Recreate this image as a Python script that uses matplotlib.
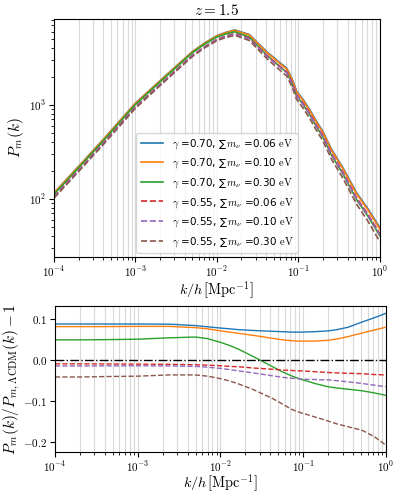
import numpy as np
import matplotlib
matplotlib.use("Agg")
import matplotlib.pyplot as plt
from matplotlib.ticker import LogLocator, FuncFormatter, FormatStrFormatter, NullFormatter

plt.rcParams['mathtext.fontset'] = 'cm'

# ================= DATA =================
k = [1e-4, 2e-4, 4e-4, 1e-3, 2.4e-3, 5e-3, 7e-3, 1e-2, 1.3e-2, 1.66e-2, 2.5e-2, 4.2e-2,
     5.7e-2, 7.2e-2, 8.3e-2, 9.5e-2, 0.115, 0.138, 0.167, 0.2, 0.255, 0.35,
     0.52, 0.72, 1.0]

# reference LCDM spectrum
P_lcdm = [106, 203, 391, 958, 1916, 3400, 4190, 5060, 5506, 5836, 5214, 3361,
          2701, 2292, 1796, 1310, 1056, 827, 621, 485, 312, 199,
          105, 70, 44]

gammas = [0.70, 0.70, 0.70, 0.55, 0.55, 0.55]
mnus = [0.06, 0.10, 0.30, 0.06, 0.10, 0.30]
colors = ["tab:blue", "tab:orange", "tab:green", "tab:red", "tab:purple", "tab:brown"]

# P_m / P_LCDM - 1 for each model
ratio_g70_m006 = [0.0889, 0.0889, 0.0889, 0.0889, 0.0885, 0.085, 0.082, 0.079, 0.077, 0.075, 0.073, 0.071,
                  0.070, 0.069, 0.069, 0.069, 0.0695, 0.070, 0.071, 0.072, 0.075, 0.081,
                  0.094, 0.104, 0.115]
ratio_g70_m010 = [0.0825, 0.0825, 0.0825, 0.083, 0.083, 0.080, 0.077, 0.072, 0.069, 0.066, 0.061, 0.054,
                  0.050, 0.048, 0.047, 0.047, 0.047, 0.047, 0.048, 0.049, 0.052, 0.058,
                  0.067, 0.074, 0.081]
ratio_g70_m030 = [0.050, 0.050, 0.0505, 0.0516, 0.055, 0.057, 0.053, 0.044, 0.036, 0.027, 0.009, -0.015,
                  -0.029, -0.038, -0.043, -0.047, -0.052, -0.057, -0.061, -0.065, -0.068, -0.071,
                  -0.075, -0.080, -0.086]
ratio_g55_m006 = [-0.0087, -0.0088, -0.009, -0.0095, -0.010, -0.011, -0.012, -0.0135, -0.015, -0.016, -0.019, -0.022,
                  -0.024, -0.025, -0.026, -0.026, -0.027, -0.028, -0.029, -0.030, -0.031, -0.032,
                  -0.033, -0.035, -0.036]
ratio_g55_m010 = [-0.014, -0.014, -0.0138, -0.0135, -0.014, -0.015, -0.017, -0.020, -0.023, -0.026, -0.031, -0.038,
                  -0.042, -0.044, -0.045, -0.046, -0.047, -0.047, -0.048, -0.048, -0.050, -0.053,
                  -0.057, -0.061, -0.065]
ratio_g55_m030 = [-0.041, -0.041, -0.040, -0.039, -0.036, -0.036, -0.039, -0.045, -0.051, -0.058, -0.072, -0.093,
                  -0.108, -0.120, -0.125, -0.129, -0.134, -0.139, -0.144, -0.149, -0.156, -0.163,
                  -0.172, -0.187, -0.208]

ratios = [ratio_g70_m006, ratio_g70_m010, ratio_g70_m030,
          ratio_g55_m006, ratio_g55_m010, ratio_g55_m030]

# ================= PLOT =================
fig = plt.figure(figsize=(3.97, 4.95), dpi=100)
ax1 = fig.add_axes([0.136, 0.4808, 0.821, 0.4808])
ax2 = fig.add_axes([0.1385, 0.0868, 0.8335, 0.295])

kk = np.array(k)
Pref = np.array(P_lcdm)
for g, m, c, r in zip(gammas, mnus, colors, ratios):
    ls = "-" if g == 0.70 else "--"
    lab = r"$\gamma$ =" + f"{g:.2f}, \u2211" + r"$\,m_\nu$ =" + f"{m:.2f}" + r" $\rm eV$"
    ax1.loglog(kk, Pref * (1 + np.array(r)), ls=ls, color=c, lw=1.2, label=lab)
    ax2.semilogx(kk, r, ls=ls, color=c, lw=1.0)

ax2.axhline(0, color="k", ls="-.", lw=1.0)

log_fmt = FuncFormatter(lambda v, p: r"$10^{%d}$" % round(np.log10(v)))
for ax in (ax1, ax2):
    ax.set_xlim(1e-4, 1)
    ax.xaxis.set_major_locator(LogLocator(base=10, numticks=10))
    ax.xaxis.set_minor_locator(LogLocator(base=10, subs=np.arange(2, 10), numticks=10))
    ax.xaxis.set_major_formatter(log_fmt)
    ax.xaxis.set_minor_formatter(NullFormatter())
    ax.grid(True, which="both", axis="x", color="0.85", lw=0.8)
    ax.set_axisbelow(True)
    ax.tick_params(labelsize=8, pad=2)

ax1.set_xlabel(r"$k/h\,[\mathrm{Mpc}^{-1}]$", fontsize=10.3, labelpad=0)
ax2.set_xlabel(r"$k/h\,[\mathrm{Mpc}^{-1}]$", fontsize=10.3, labelpad=-1)

ax1.set_ylim(24, 8200)
ax1.yaxis.set_major_formatter(log_fmt)
ax1.yaxis.set_minor_formatter(NullFormatter())
ax1.set_ylabel(r"$P_m(k)$", fontsize=11, labelpad=2)
ax1.set_title(r"$z = 1.5$", fontsize=11, pad=3)
ax1.legend(loc="lower center", fontsize=7.5, handlelength=2.2, borderaxespad=0.4,
           labelspacing=0.55)

ax2.set_ylim(-0.225, 0.133)
ax2.set_yticks([-0.2, -0.1, 0.0, 0.1])
ax2.yaxis.set_major_formatter(FormatStrFormatter(r"$%.1f$"))
ax2.set_ylabel(r"$P_m(k)/P_{m,\Lambda\mathrm{CDM}}(k)-1$", fontsize=11, labelpad=1)

fig.savefig("out.png", dpi=100)
